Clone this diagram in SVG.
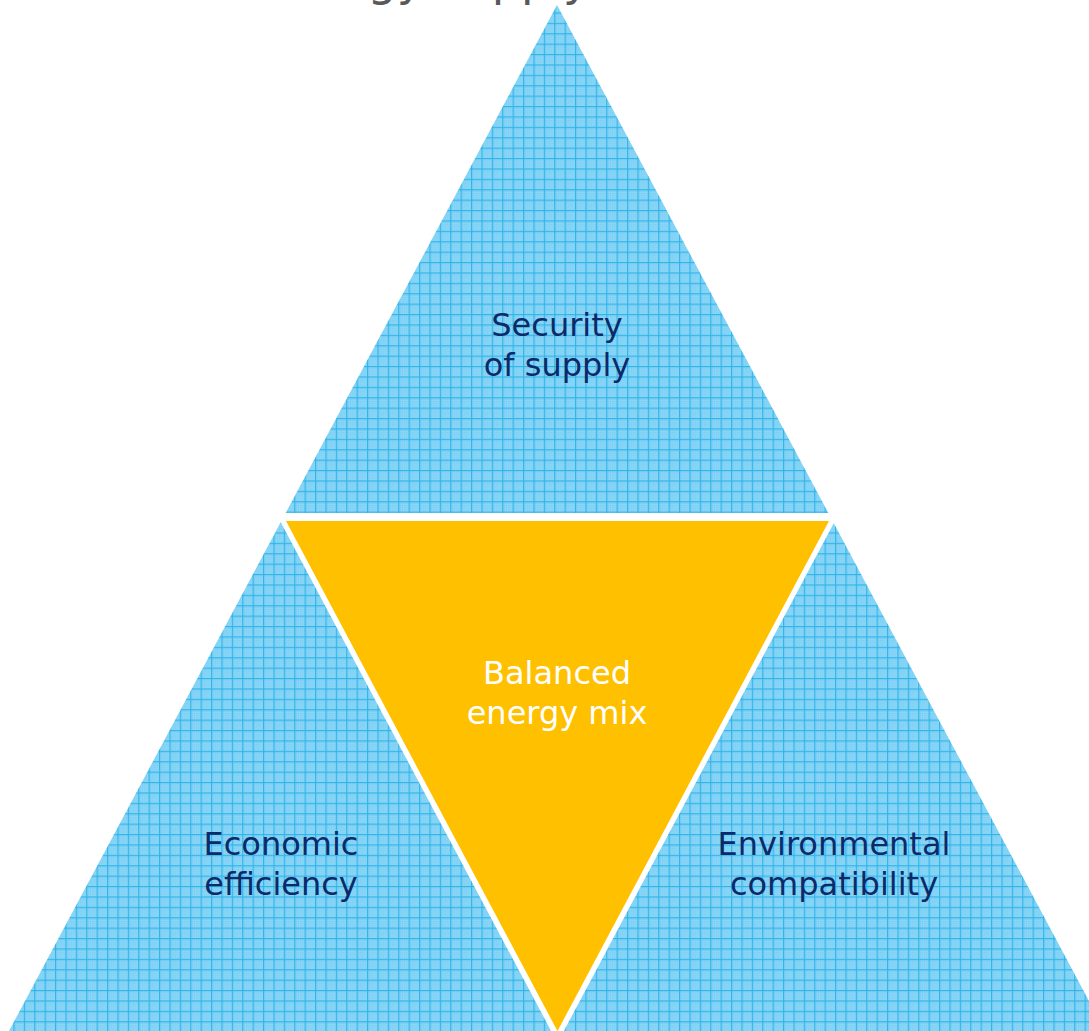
<svg xmlns="http://www.w3.org/2000/svg" width="1089" height="1031" viewBox="0 0 1089 1031">
<style>
.lbl{font-family:"DejaVu Sans",Verdana,sans-serif;font-size:32px;text-anchor:middle;fill:#0b2a6a}
.mix{fill:#ffffff}
.ttl{font-family:"DejaVu Sans",Verdana,sans-serif;font-size:46px;fill:#595959}
</style>
<defs>
<pattern id="chk" width="2" height="2" patternUnits="userSpaceOnUse">
<rect width="2" height="2" fill="#86d4f5"/>
<rect width="1" height="1" fill="#74cdf3"/>
<rect x="1" y="1" width="1" height="1" fill="#9bdcf8"/>
</pattern>
<pattern id="grid" x="3" y="2" width="10.4" height="10.4" patternUnits="userSpaceOnUse">
<rect width="10.4" height="10.4" fill="url(#chk)"/>
<rect width="10.4" height="1.2" fill="#2fb4ea"/>
<rect width="1.2" height="10.4" fill="#2fb4ea"/>
</pattern>
</defs>
<rect width="1089" height="1031" fill="#ffffff"/>
<text class="ttl" x="263" y="-5">Energy supply</text>
<g id="blue-triangle">
<polygon points="557,5 9,1031 1105,1031" fill="url(#grid)"/>
</g>
<g id="gaps">
<polygon points="275.8,513 839.2,513 557.5,1043" fill="#ffffff"/>
</g>
<g id="security">
<text class="lbl" x="557" y="336">Security</text>
<text class="lbl" x="557" y="376">of supply</text>
</g>
<g id="balanced">
<polygon points="286,521 829,521 557.5,1031" fill="#ffc000"/>
<text class="lbl mix" x="557" y="684">Balanced</text>
<text class="lbl mix" x="557" y="724">energy mix</text>
</g>
<g id="economic">
<text class="lbl" x="281" y="855">Economic</text>
<text class="lbl" x="281" y="895">efficiency</text>
</g>
<g id="environmental">
<text class="lbl" x="834" y="855">Environmental</text>
<text class="lbl" x="834" y="895">compatibility</text>
</g>
<g id="connectors"></g>
</svg>
